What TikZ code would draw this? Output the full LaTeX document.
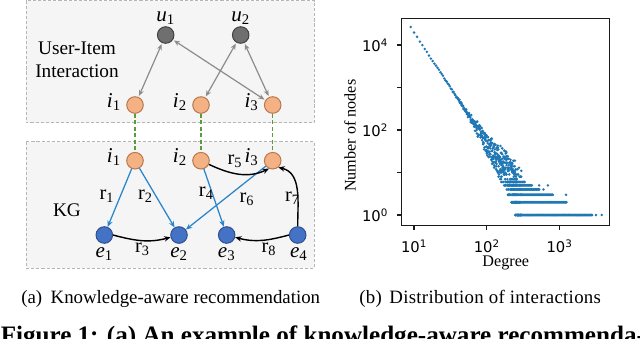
\documentclass[tikz,border=0pt]{standalone}
\usepackage{fontspec}
\setmainfont{Liberation Serif}
\newfontfamily\ticksf{DejaVu Sans}
\usetikzlibrary{arrows.meta,positioning}
\definecolor{panelfill}{HTML}{F5F5F5}
\definecolor{paneldraw}{HTML}{B5B5B5}
\definecolor{usergray}{HTML}{6F6F6F}
\definecolor{userdraw}{HTML}{404040}
\definecolor{itemfill}{HTML}{F4B183}
\definecolor{itemdraw}{HTML}{B8774C}
\definecolor{entfill}{HTML}{4472C4}
\definecolor{entdraw}{HTML}{2F4F8F}
\definecolor{relblue}{HTML}{2A86CB}
\definecolor{linkgreen}{HTML}{5C9A3A}
\definecolor{uigray}{HTML}{8C8C8C}
\definecolor{dotblue}{HTML}{1F77B4}
\definecolor{axisdark}{HTML}{1A1A1A}
\tikzset{
  panel/.style={draw=paneldraw, fill=panelfill, line width=0.6pt,
                dash pattern=on 2.2pt off 1.4pt},
  vtx/.style={circle, minimum size=11.8pt, inner sep=0pt, line width=0.7pt},
  usr/.style={vtx, fill=usergray, draw=userdraw},
  itm/.style={vtx, fill=itemfill, draw=itemdraw},
  ent/.style={vtx, fill=entfill, draw=entdraw},
  txt/.style={font=\fontsize{13.7}{16.1}\selectfont, inner sep=0pt},
  lbl/.style={font=\fontsize{15}{15}\selectfont, inner sep=1pt},
  rel/.style={font=\fontsize{14.5}{14.5}\selectfont, inner sep=0pt},
  ui/.style={{Stealth[length=4.3pt,width=3.6pt]}-{Stealth[length=4.3pt,width=3.6pt]},
             draw=uigray, line width=0.85pt, shorten <=0.8pt, shorten >=0.8pt},
  kg/.style={-{Stealth[length=4.5pt,width=3.8pt]}, draw=relblue, line width=0.9pt},
  kgc/.style={-{Stealth[length=4.5pt,width=3.8pt]}, draw=black, line width=1pt},
  link/.style={draw=linkgreen, line width=1pt, dash pattern=on 3pt off 1.6pt},
  spine/.style={draw=axisdark, line width=1pt, line cap=rect},
  ticklbl/.style={font=\ticksf\fontsize{10.5}{10.5}\selectfont, inner sep=0pt},
  axl/.style={font=\fontsize{11.5}{11.5}\selectfont, inner sep=0pt},
  dotmark/.style={fill=dotblue},
  subcap/.style={font=\fontsize{13.4}{13.4}\selectfont, inner sep=0pt, anchor=base west},
}

\begin{document}
\begin{tikzpicture}[x=0.025cm,y=0.025cm]
  \clip (0,0) rectangle (640,-338);
  \path[panel] (26,-0.6) rectangle (314,-122.7);
  \path[panel] (26,-141.7) rectangle (314,-268);
  \node[txt, align=center] (uitext) at (77,-59.7) {User-Item\\Interaction};
  \node[txt] (kgtext) at (67,-210) {KG};

  % user-item interactions
  \node[usr] (u1) at (165.7,-35) {};
  \node[usr] (u2) at (240.7,-35) {};
  \node[itm] (ti1) at (135,-105) {};
  \node[itm] (ti2) at (201,-105) {};
  \node[itm] (ti3) at (272.7,-105) {};
  \node[lbl, above=0pt of u1] (lu1) {\textit{u}\textsubscript{1}};
  \node[lbl, above=0pt of u2] (lu2) {\textit{u}\textsubscript{2}};
  \node[lbl, left=2.6pt of ti1, yshift=1.8pt] (lti1) {\textit{i}\textsubscript{1}};
  \node[lbl, left=2.6pt of ti2, yshift=1.8pt] (lti2) {\textit{i}\textsubscript{2}};
  \node[lbl, left=2.6pt of ti3, yshift=1.8pt] (lti3) {\textit{i}\textsubscript{3}};
  \draw[ui] (u1) -- (ti1); \draw[ui] (u1) -- (ti3);
  \draw[ui] (u2) -- (ti2); \draw[ui] (u2) -- (ti3);

  % knowledge graph
  \node[itm] (ki1) at (135,-160.7) {};
  \node[itm] (ki2) at (201,-160.7) {};
  \node[itm] (ki3) at (272.7,-160.7) {};
  \node[ent] (e1) at (104.3,-235) {};
  \node[ent] (e2) at (179,-235) {};
  \node[ent] (e3) at (226.7,-235) {};
  \node[ent] (e4) at (297.7,-235) {};
  \node[lbl, left=2.6pt of ki1, yshift=2.8pt] (lki1) {\textit{i}\textsubscript{1}};
  \node[lbl, left=2.6pt of ki2, yshift=2.8pt] (lki2) {\textit{i}\textsubscript{2}};
  \node[lbl, left=2.6pt of ki3, yshift=2.8pt] (lki3) {\textit{i}\textsubscript{3}};
  \node[lbl, below=1.5pt of e1] (le1) {\textit{e}\textsubscript{1}};
  \node[lbl, below=1.5pt of e2] (le2) {\textit{e}\textsubscript{2}};
  \node[lbl, below=1.5pt of e3] (le3) {\textit{e}\textsubscript{3}};
  \node[lbl, below=1.5pt of e4, xshift=0.8pt] (le4) {\textit{e}\textsubscript{4}};
  \draw[link] (ti1) -- (ki1); \draw[link] (ti2) -- (ki2); \draw[link] (ti3) -- (ki3);
  \draw[kg] (ki1) -- (e1); \draw[kg] (ki1) -- (e2);
  \draw[kg] (ki2) -- (e3); \draw[kg] (ki3) -- (e2);
  \draw[kgc] (e1.east) to[out=-15,in=195] (e2.195);
  \draw[kgc] (ki2.-25) to[out=-25,in=205] (ki3.-115);
  \draw[kgc] (e4.west) to[out=195,in=-15] (e3.-15);
  \draw[kgc] (e4.north) to[out=90,in=-13] (ki3.-50);
  \node[rel] (r1) at (107,-196) {r\textsubscript{1}};
  \node[rel] (r2) at (145.5,-196) {r\textsubscript{2}};
  \node[rel] (r3) at (142.5,-249) {r\textsubscript{3}};
  \node[rel] (r4) at (206.3,-193.3) {r\textsubscript{4}};
  \node[rel] (r5) at (235,-160.8) {r\textsubscript{5}};
  \node[rel] (r6) at (247,-199) {r\textsubscript{6}};
  \node[rel] (r7) at (292.5,-198.3) {r\textsubscript{7}};
  \node[rel] (r8) at (269,-249) {r\textsubscript{8}};

  % degree distribution, log-log
  \begin{scope}[shift={(8.5325cm,-5.375cm)}, x=1.8175cm, y=1.0625cm]
    \pgfmathsetseed{11}
    \foreach \d in {9,...,260}{
      \pgfmathsetmacro\lx{log10(\d)}
      \pgfmathsetmacro\ly{4.41-2.6*(\lx-0.955)+(0.02+0.7*max(0,\lx-1.75))*rand}
      \pgfmathsetmacro\ly{\ly>2.2 ? \ly : log10(max(1,round(10^(min(\ly,2.2)))))}
      \fill[dotmark] (\lx,\ly) circle[radius=1pt];
    }
    \foreach \d in {40,...,300}{
      \pgfmathsetmacro\lx{log10(\d)}
      \pgfmathsetmacro\ly{4.41-2.6*(\lx-0.955)+(0.04+0.8*max(0,\lx-1.7))*rand}
      \pgfmathsetmacro\ly{\ly>2.2 ? \ly : log10(max(1,round(10^(min(\ly,2.2)))))}
      \fill[dotmark] (\lx,\ly) circle[radius=1pt];
    }
    \foreach \ry/\rs/\rn/\rstep in {0/2.40/131/0.008, 0.30103/2.36/92/0.008,
        0.47712/2.34/71/0.008, 0.60206/2.32/50/0.008,
        0.69897/2.30/32/0.01, 0.77815/2.28/24/0.01}
      \foreach \k in {0,...,\rn}
        \fill[dotmark] ({\rs+\rstep*\k},\ry) circle[radius=1pt];
    \foreach \lx/\ly in {3.50/0, 3.58/0, 3.09/0.47712, 2.72/0.69897,
        2.84/0.69897, 2.78/0.60206}
      \fill[dotmark] (\lx,\ly) circle[radius=1pt];
    \foreach \e in {0,2,4}
      \node[ticklbl, anchor=base east] (yt\e) at (0.6465,\e-0.158) {10\textsuperscript{\e}};
    \foreach \e in {1,2,3}
      \node[ticklbl, anchor=base] (xt\e) at (\e,-0.89) {10\textsuperscript{\e}};
  \end{scope}
  \node[axl, anchor=base] (xlab) at (505.8,-266) {Degree};
  \node[axl, anchor=base, rotate=90] (ylab) at (355.5,-135.8) {Number of nodes};

  % axes spines and ticks
  \draw[spine] (401.7,-18.3) -- (609.3,-18.3);
  \draw[spine] (609.3,-18.3) -- (609.3,-225.7);
  \draw[spine] (609.3,-225.7) -- (401.7,-225.7);
  \draw[spine] (401.7,-225.7) -- (401.7,-18.3);
  \foreach \e in {0,...,4}
    \draw[spine] (401.7,-215+42.5*\e) -- (397.9,-215+42.5*\e);
  \foreach \e in {1,2,3}
    \draw[spine] (341.3+72.7*\e,-225.7) -- (341.3+72.7*\e,-229.5);

  % captions
  \node[subcap] (capa) at (21,-303) {(a)\hspace{0.45em}Knowledge-aware recommendation};
  \node[subcap] (capb) at (359,-303)
    {\addfontfeature{LetterSpace=1.6}(b)\hspace{0.4em}Distribution of interactions};
  \node[anchor=base west, inner sep=0pt, font=\fontsize{17.85}{17.85}\selectfont\bfseries]
    (figcap) at (0.5,-343.3) {Figure 1: (a) An example of knowledge-aware recommenda-};
\end{tikzpicture}
\end{document}
